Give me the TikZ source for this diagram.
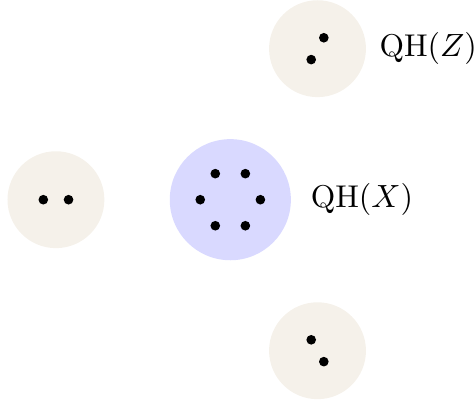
\documentclass[tikz,border=0pt]{standalone}
\usetikzlibrary{positioning,calc}
\definecolor{sand}{RGB}{245,241,234}
\begin{document}
\begin{tikzpicture}[
        sat/.style={circle, fill=sand, minimum size=1.06cm, inner sep=0pt},
        core/.style={circle, fill=blue!15, minimum size=1.325cm, inner sep=0pt},
        pt/.style={circle, fill=black, minimum size=3pt, inner sep=0pt},
        tag/.style={font=\fontsize{9.8}{12}\selectfont}
    ]
        \useasboundingbox (-2.520,-2.224) rectangle (2.688,2.185);

        % Körök
        \node[core] (X) at (0,0) {}; % középső
        \node[sat] (L) at (180:1.908) {}; % bal
        \node[sat] (Z) at (60:1.908) {}; % felső
        \node[sat] (B) at (-60:1.908) {}; % alsó

        % Pontok a középső körben
        \node[pt] (x1) at ($(X)+(0:0.329)$) {};
        \node[pt] (x2) at ($(X)+(60:0.329)$) {};
        \node[pt] (x3) at ($(X)+(120:0.329)$) {};
        \node[pt] (x4) at ($(X)+(180:0.329)$) {};
        \node[pt] (x5) at ($(X)+(240:0.329)$) {};
        \node[pt] (x6) at ($(X)+(300:0.329)$) {};

        % Pontok a külső körökben
        \node[pt] (l1) at ($(L)+(180:0.138)$) {};
        \node[pt] (l2) at ($(L)+(0:0.138)$) {};
        \node[pt] (z1) at ($(Z)+(60:0.138)$) {};
        \node[pt] (z2) at ($(Z)+(240:0.138)$) {};
        \node[pt] (b1) at ($(B)+(120:0.138)$) {};
        \node[pt] (b2) at ($(B)+(300:0.138)$) {};

        % Feliratok
        \node[tag, right=2.5pt of X] (qx) {QH$(X)$};
        \node[tag, right=0.5pt of Z] (qz) {QH$(Z)$};

    \end{tikzpicture}
\end{document}
